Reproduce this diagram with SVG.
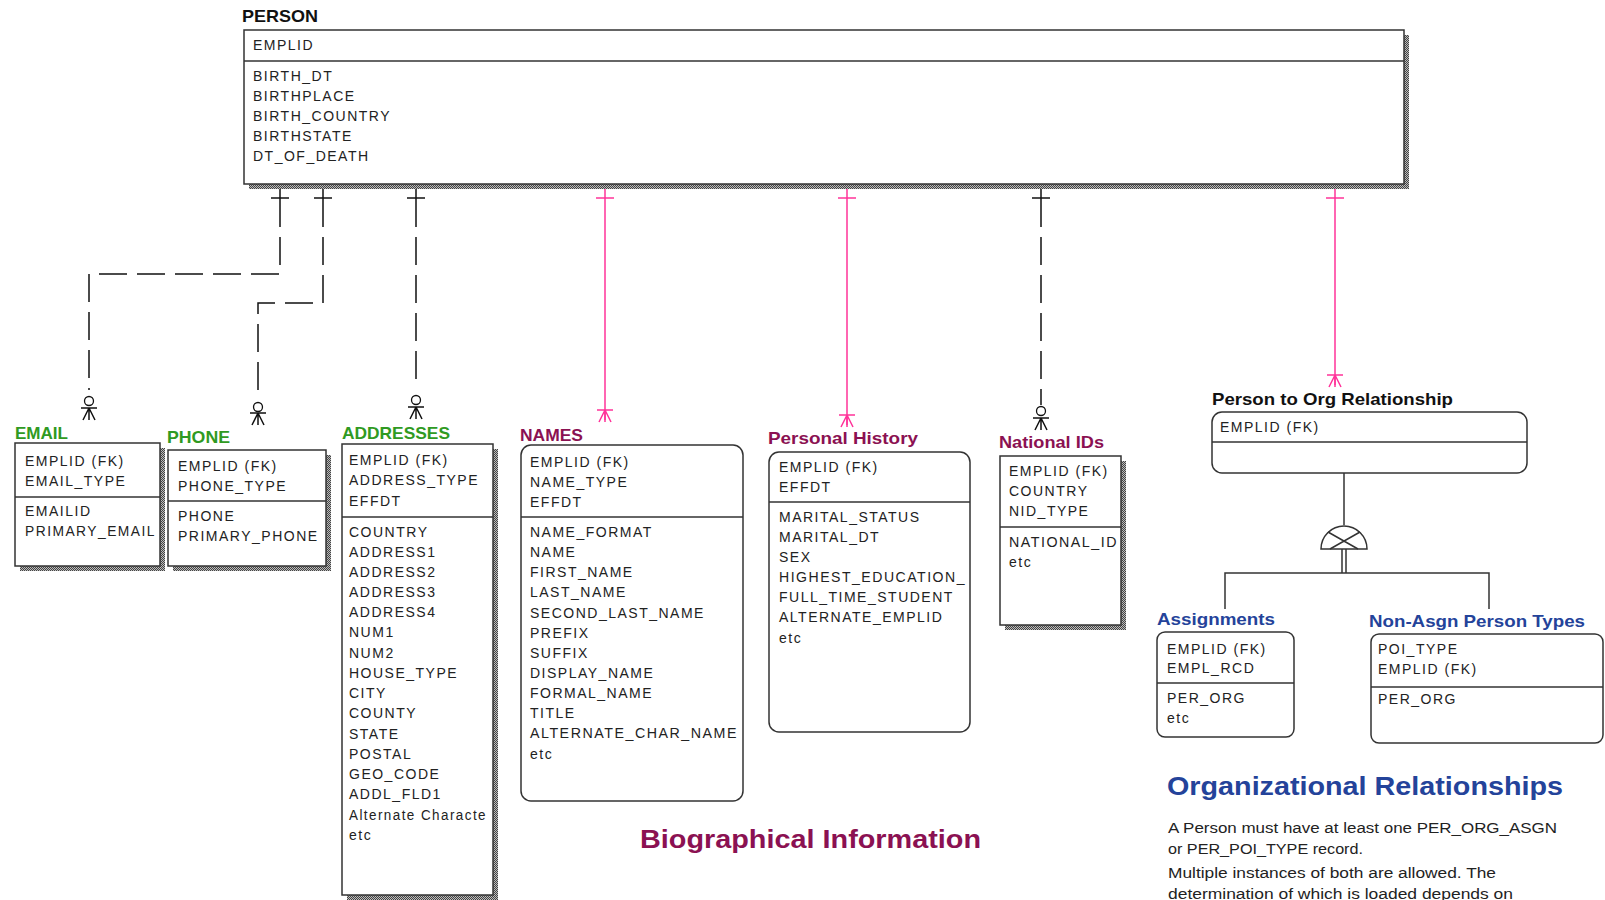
<svg xmlns="http://www.w3.org/2000/svg" xmlns:xlink="http://www.w3.org/1999/xlink" width="1605" height="900" viewBox="0 0 1605 900">
<style>
.box{fill:#fff;stroke:#333;stroke-width:1.5}
.div{stroke:#333;stroke-width:1.5}
.shadow{fill:url(#dots)}
.fld{font-family:"Liberation Sans",Arial,sans-serif;font-size:14px;letter-spacing:1.5px;fill:#222}
.ttl{font-family:"Liberation Sans",Arial,sans-serif;font-size:17px;font-weight:bold}
.green{fill:#2f9a22}
.mag{fill:#8b1152}
.blue{fill:#24439a}
.blk{fill:#111}
.big{font-family:"Liberation Sans",Arial,sans-serif;font-size:26px;font-weight:bold}
.para{font-family:"Liberation Sans",Arial,sans-serif;font-size:15.5px;fill:#222}
.dash{fill:none;stroke:#111;stroke-width:1.5;stroke-dasharray:28 10}
.solid{fill:none;stroke:#111;stroke-width:1.5}
.pink{fill:none;stroke:#ff3399;stroke-width:1.5}
.sub{fill:none;stroke:#333;stroke-width:1.5}
</style>
<defs>
<pattern id="dots" width="2" height="2" patternUnits="userSpaceOnUse"><rect width="2" height="2" fill="#bbb"/><rect width="1" height="1" fill="#444"/><rect x="1" y="1" width="1" height="1" fill="#444"/></pattern>
<path id="tick" d="M-9,0 H9" fill="none"/>
<path id="foot" d="M-8,0 H8 M0,0 L-6,12 M0,0 V12 M0,0 L6,12" fill="none"/>
<circle id="zero" r="4.5" cx="0" cy="0" fill="#fff"/>
</defs>

<g id="connectors">
  <!-- EMAIL -->
  <path class="solid" d="M280,184 V199"/>
  <path class="dash" d="M280,199 V274 H89 V390"/>
  <use xlink:href="#tick" x="280" y="198" stroke="#111" stroke-width="1.5"/>
  <use xlink:href="#zero" x="89" y="401" stroke="#111" stroke-width="1.3"/>
  <use xlink:href="#foot" x="89" y="408" stroke="#111" stroke-width="1.5"/>
  <!-- PHONE -->
  <path class="solid" d="M323,184 V199"/>
  <path class="dash" d="M323,199 V303 H258 V398"/>
  <use xlink:href="#tick" x="323" y="198" stroke="#111" stroke-width="1.5"/>
  <use xlink:href="#zero" x="258" y="407" stroke="#111" stroke-width="1.3"/>
  <use xlink:href="#foot" x="258" y="413" stroke="#111" stroke-width="1.5"/>
  <!-- ADDRESSES -->
  <path class="solid" d="M416,184 V199"/>
  <path class="dash" d="M416,199 V389"/>
  <use xlink:href="#tick" x="416" y="198" stroke="#111" stroke-width="1.5"/>
  <use xlink:href="#zero" x="416" y="400" stroke="#111" stroke-width="1.3"/>
  <use xlink:href="#foot" x="416" y="407" stroke="#111" stroke-width="1.5"/>
  <!-- NAMES -->
  <path class="pink" d="M605,184 V420"/>
  <use xlink:href="#tick" x="605" y="198" stroke="#ff3399" stroke-width="1.5"/>
  <use xlink:href="#foot" x="605" y="410" stroke="#ff3399" stroke-width="1.5"/>
  <!-- Personal History -->
  <path class="pink" d="M847,184 V425"/>
  <use xlink:href="#tick" x="847" y="198" stroke="#ff3399" stroke-width="1.5"/>
  <use xlink:href="#foot" x="847" y="415" stroke="#ff3399" stroke-width="1.5"/>
  <!-- National IDs -->
  <path class="solid" d="M1041,184 V199"/>
  <path class="dash" d="M1041,199 V405"/>
  <use xlink:href="#tick" x="1041" y="198" stroke="#111" stroke-width="1.5"/>
  <use xlink:href="#zero" x="1041" y="411" stroke="#111" stroke-width="1.3"/>
  <use xlink:href="#foot" x="1041" y="418" stroke="#111" stroke-width="1.5"/>
  <!-- Person to Org -->
  <path class="pink" d="M1335,184 V385"/>
  <use xlink:href="#tick" x="1335" y="198" stroke="#ff3399" stroke-width="1.5"/>
  <use xlink:href="#foot" x="1335" y="375" stroke="#ff3399" stroke-width="1.5"/>
  <!-- Subtype -->
  <path class="sub" d="M1344,473 V525"/>
  <path class="sub" d="M1321,549 A23,23 0 0 1 1367,549 Z"/>
  <path class="sub" d="M1328,532 L1358,549 M1360,532 L1330,549"/>
  <path class="sub" d="M1342,549 V573 M1346,549 V573"/>
  <path class="sub" d="M1225,609 V573 H1489 V609"/>
</g>

<g id="person">
  <text class="ttl blk" x="242" y="22" textLength="76" lengthAdjust="spacingAndGlyphs">PERSON</text>
  <rect class="shadow" x="249" y="35" width="1160" height="154"/>
  <rect class="box" x="244" y="30" width="1160" height="154"/>
  <line class="div" x1="244" y1="61" x2="1404" y2="61"/>
  <text class="fld" x="253" y="50">EMPLID</text>
  <text class="fld" x="253" y="81">BIRTH_DT</text>
  <text class="fld" x="253" y="101">BIRTHPLACE</text>
  <text class="fld" x="253" y="121">BIRTH_COUNTRY</text>
  <text class="fld" x="253" y="141">BIRTHSTATE</text>
  <text class="fld" x="253" y="161">DT_OF_DEATH</text>
</g>

<g id="email">
  <text class="ttl green" x="15" y="439" textLength="53" lengthAdjust="spacingAndGlyphs">EMAIL</text>
  <rect class="shadow" x="20" y="448" width="145" height="123"/>
  <rect class="box" x="15" y="443" width="145" height="123"/>
  <line class="div" x1="15" y1="497" x2="160" y2="497"/>
  <text class="fld" x="25" y="466">EMPLID (FK)</text>
  <text class="fld" x="25" y="486">EMAIL_TYPE</text>
  <text class="fld" x="25" y="516">EMAILID</text>
  <text class="fld" x="25" y="536" textLength="131" lengthAdjust="spacingAndGlyphs">PRIMARY_EMAIL</text>
</g>

<g id="phone">
  <text class="ttl green" x="167" y="443" textLength="63" lengthAdjust="spacingAndGlyphs">PHONE</text>
  <rect class="shadow" x="173" y="455" width="158" height="116"/>
  <rect class="box" x="168" y="450" width="158" height="116"/>
  <line class="div" x1="168" y1="501" x2="326" y2="501"/>
  <text class="fld" x="178" y="471">EMPLID (FK)</text>
  <text class="fld" x="178" y="491">PHONE_TYPE</text>
  <text class="fld" x="178" y="521">PHONE</text>
  <text class="fld" x="178" y="541">PRIMARY_PHONE</text>
</g>

<g id="addresses">
  <text class="ttl green" x="342" y="439" textLength="108" lengthAdjust="spacingAndGlyphs">ADDRESSES</text>
  <rect class="shadow" x="347" y="449" width="151" height="451"/>
  <rect class="box" x="342" y="444" width="151" height="451"/>
  <line class="div" x1="342" y1="517" x2="493" y2="517"/>
  <text class="fld" x="349" y="465">EMPLID (FK)</text>
  <text class="fld" x="349" y="485">ADDRESS_TYPE</text>
  <text class="fld" x="349" y="506">EFFDT</text>
  <text class="fld" x="349" y="537">COUNTRY</text>
  <text class="fld" x="349" y="557">ADDRESS1</text>
  <text class="fld" x="349" y="577">ADDRESS2</text>
  <text class="fld" x="349" y="597">ADDRESS3</text>
  <text class="fld" x="349" y="617">ADDRESS4</text>
  <text class="fld" x="349" y="637">NUM1</text>
  <text class="fld" x="349" y="658">NUM2</text>
  <text class="fld" x="349" y="678">HOUSE_TYPE</text>
  <text class="fld" x="349" y="698">CITY</text>
  <text class="fld" x="349" y="718">COUNTY</text>
  <text class="fld" x="349" y="739">STATE</text>
  <text class="fld" x="349" y="759">POSTAL</text>
  <text class="fld" x="349" y="779">GEO_CODE</text>
  <text class="fld" x="349" y="799">ADDL_FLD1</text>
  <text class="fld" x="349" y="820" textLength="138" lengthAdjust="spacingAndGlyphs">Alternate Characte</text>
  <text class="fld" x="349" y="840">etc</text>
</g>

<g id="names">
  <text class="ttl mag" x="520" y="441" textLength="63" lengthAdjust="spacingAndGlyphs">NAMES</text>
  <rect class="box" x="521" y="445" width="222" height="356" rx="10"/>
  <line class="div" x1="521" y1="517" x2="743" y2="517"/>
  <text class="fld" x="530" y="467">EMPLID (FK)</text>
  <text class="fld" x="530" y="487">NAME_TYPE</text>
  <text class="fld" x="530" y="507">EFFDT</text>
  <text class="fld" x="530" y="537">NAME_FORMAT</text>
  <text class="fld" x="530" y="557">NAME</text>
  <text class="fld" x="530" y="577">FIRST_NAME</text>
  <text class="fld" x="530" y="597">LAST_NAME</text>
  <text class="fld" x="530" y="618">SECOND_LAST_NAME</text>
  <text class="fld" x="530" y="638">PREFIX</text>
  <text class="fld" x="530" y="658">SUFFIX</text>
  <text class="fld" x="530" y="678">DISPLAY_NAME</text>
  <text class="fld" x="530" y="698">FORMAL_NAME</text>
  <text class="fld" x="530" y="718">TITLE</text>
  <text class="fld" x="530" y="738" textLength="208" lengthAdjust="spacingAndGlyphs">ALTERNATE_CHAR_NAME</text>
  <text class="fld" x="530" y="759">etc</text>
</g>

<g id="personal-history">
  <text class="ttl mag" x="768" y="444" textLength="150" lengthAdjust="spacingAndGlyphs">Personal History</text>
  <rect class="box" x="769" y="452" width="201" height="280" rx="10"/>
  <line class="div" x1="769" y1="502" x2="970" y2="502"/>
  <text class="fld" x="779" y="472">EMPLID (FK)</text>
  <text class="fld" x="779" y="492">EFFDT</text>
  <text class="fld" x="779" y="522">MARITAL_STATUS</text>
  <text class="fld" x="779" y="542">MARITAL_DT</text>
  <text class="fld" x="779" y="562">SEX</text>
  <text class="fld" x="779" y="582" textLength="187" lengthAdjust="spacingAndGlyphs">HIGHEST_EDUCATION_</text>
  <text class="fld" x="779" y="602">FULL_TIME_STUDENT</text>
  <text class="fld" x="779" y="622">ALTERNATE_EMPLID</text>
  <text class="fld" x="779" y="643">etc</text>
</g>

<g id="national-ids">
  <text class="ttl mag" x="999" y="448" textLength="105" lengthAdjust="spacingAndGlyphs">National IDs</text>
  <rect class="shadow" x="1005" y="461" width="121" height="169"/>
  <rect class="box" x="1000" y="456" width="121" height="169"/>
  <line class="div" x1="1000" y1="527" x2="1121" y2="527"/>
  <text class="fld" x="1009" y="476">EMPLID (FK)</text>
  <text class="fld" x="1009" y="496">COUNTRY</text>
  <text class="fld" x="1009" y="516">NID_TYPE</text>
  <text class="fld" x="1009" y="547" textLength="109" lengthAdjust="spacingAndGlyphs">NATIONAL_ID</text>
  <text class="fld" x="1009" y="567">etc</text>
</g>

<g id="person-to-org">
  <text class="ttl blk" x="1212" y="405" textLength="241" lengthAdjust="spacingAndGlyphs">Person to Org Relationship</text>
  <rect class="box" x="1212" y="412" width="315" height="61" rx="10"/>
  <line class="div" x1="1212" y1="442" x2="1527" y2="442"/>
  <text class="fld" x="1220" y="432">EMPLID (FK)</text>
</g>

<g id="assignments">
  <text class="ttl blue" x="1157" y="625" textLength="118" lengthAdjust="spacingAndGlyphs">Assignments</text>
  <rect class="box" x="1157" y="632" width="137" height="105" rx="8"/>
  <line class="div" x1="1157" y1="683" x2="1294" y2="683"/>
  <text class="fld" x="1167" y="654">EMPLID (FK)</text>
  <text class="fld" x="1167" y="673">EMPL_RCD</text>
  <text class="fld" x="1167" y="703">PER_ORG</text>
  <text class="fld" x="1167" y="723">etc</text>
</g>

<g id="non-asgn">
  <text class="ttl blue" x="1369" y="627" textLength="216" lengthAdjust="spacingAndGlyphs">Non-Asgn Person Types</text>
  <rect class="box" x="1371" y="634" width="232" height="109" rx="8"/>
  <line class="div" x1="1371" y1="687" x2="1603" y2="687"/>
  <text class="fld" x="1378" y="654">POI_TYPE</text>
  <text class="fld" x="1378" y="674">EMPLID (FK)</text>
  <text class="fld" x="1378" y="704">PER_ORG</text>
</g>

<g id="labels">
  <text class="big mag" x="640" y="848" textLength="341" lengthAdjust="spacingAndGlyphs">Biographical Information</text>
  <text class="big blue" x="1167" y="795" textLength="396" lengthAdjust="spacingAndGlyphs">Organizational Relationships</text>
  <text class="para" x="1168" y="833" textLength="389" lengthAdjust="spacingAndGlyphs">A Person must have at least one PER_ORG_ASGN</text>
  <text class="para" x="1168" y="854" textLength="195" lengthAdjust="spacingAndGlyphs">or PER_POI_TYPE record.</text>
  <text class="para" x="1168" y="878" textLength="328" lengthAdjust="spacingAndGlyphs">Multiple instances of both are allowed. The</text>
  <text class="para" x="1168" y="899" textLength="345" lengthAdjust="spacingAndGlyphs">determination of which is loaded depends on</text>
</g>
</svg>
